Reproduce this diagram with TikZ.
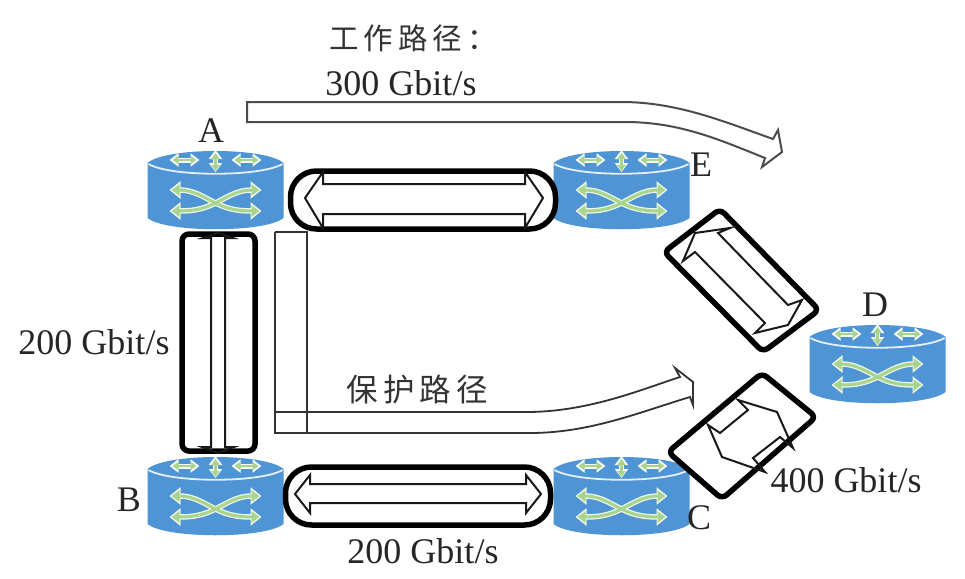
\documentclass[tikz,border=0pt]{standalone}
\usepackage{fontspec}
\setmainfont{Liberation Serif}
\newfontfamily\cjk[LetterSpace=17]{Noto Sans CJK SC}
\usetikzlibrary{arrows.meta}
\definecolor{rblue}{HTML}{4F94D4}
\definecolor{rgreen}{HTML}{A9D48E}
\tikzset{
  routerbox/.style={minimum width=135pt,minimum height=78pt,inner sep=0pt,outer sep=0pt},
  lbl/.style={font=\fontsize{36pt}{36pt}\selectfont,inner sep=0pt,text=black!85},
  cjklbl/.style={font=\cjk\fontsize{29.5pt}{30pt}\selectfont,inner sep=0pt,text=black!80},
  linkbox/.style={draw=black,line width=5.5pt,inner sep=0pt},
  linkline/.style={draw=black,line width=5.5pt,rounded corners=6pt},
  thin block/.style={draw=black!90,line width=2pt,line join=miter},
  gray block/.style={draw=black!70,line width=2pt},
  wa/.style={white!92!rgreen,line width=5pt,{Triangle[width=13pt,length=9pt]}-{Triangle[width=13pt,length=9pt]}},
  ga/.style={rgreen,line width=2.2pt,{Triangle[width=8pt,length=6pt]}-{Triangle[width=8pt,length=6pt]}},
  xw/.style={white!80!rgreen,line width=5.5pt,{Triangle[width=17pt,length=11pt]}-{Triangle[width=17pt,length=11pt]}},
  xg/.style={rgreen,line width=3pt,{Triangle[width=11pt,length=8pt]}-{Triangle[width=11pt,length=8pt]}},
}
\newcommand{\router}[3]{%
  \node[routerbox] (#1) at (#2,#3+27) {};
  \begin{scope}[shift={(#2,#3)}]
    \fill[rblue] (-68,0) -- (-68,55) .. controls (-50,70) and (50,70) .. (68,55) -- (68,0) .. controls (50,-16) and (-50,-16) .. (-68,0) -- cycle;
    \draw[white!85!rblue,line width=1.8pt] (-67,1) .. controls (-45,14) and (45,14) .. (67,1);
    \draw[wa] (-46,-3) -- (-16,-3);
    \draw[wa] (16,-3) -- (46,-3);
    \draw[wa] (0,-13) -- (0,9);
    \draw[ga] (-43,-3) -- (-19,-3);
    \draw[ga] (19,-3) -- (43,-3);
    \draw[ga] (0,-10) -- (0,8);
    \draw[xw] (-46,27) .. controls (-22,27) and (-12,34) .. (0,40) .. controls (12,46) and (22,48) .. (46,48);
    \draw[xw] (-46,48) .. controls (-22,48) and (-12,46) .. (0,40) .. controls (12,34) and (22,27) .. (46,27);
    \draw[xg] (-44,27) .. controls (-22,27) and (-12,34) .. (0,40) .. controls (12,46) and (22,48) .. (44,48);
    \draw[xg] (-44,48) .. controls (-22,48) and (-12,46) .. (0,40) .. controls (12,34) and (22,27) .. (44,27);
  \end{scope}}
\begin{document}
\begin{tikzpicture}[x=1pt,y=-1pt]
\useasboundingbox (0,0) rectangle (965,578);
\fill[white] (0,0) rectangle (965,578);
\router{A}{215.5}{163}
\router{E}{621.5}{163}
\router{B}{215.5}{469}
\router{C}{621.5}{469}
\router{D}{877.5}{337}
% links
\node[linkbox,rounded corners=26pt,minimum width=265pt,minimum height=58pt] (AE) at (423,200) {};
\node[linkbox,rounded corners=26pt,minimum width=265pt,minimum height=58pt] (BC) at (418,496) {};
\node[linkbox,rounded corners=7pt,minimum width=73pt,minimum height=217pt] (AB) at (218.5,342.5) {};
\draw[linkline] (720,209) -- (819,310) -- (763,352) -- (664,252) -- cycle;
\draw[linkline] (762,373) -- (816,417) -- (722,499) -- (668,452) -- cycle;
% double block arrows
\draw[thin block] (323,184) -- (525,184) -- (525,172) -- (543,198) -- (525,228) -- (525,214) -- (323,214) -- (323,228) -- (305,198) -- (323,172) -- cycle;
\draw[thin block] (310,484) -- (526,484) -- (526,475) -- (541,494) -- (526,513) -- (526,503) -- (310,503) -- (310,513) -- (295,494) -- (310,475) -- cycle;
\draw[thin block] (211,238) -- (211,447) -- (202,447) -- (218,453) -- (234,447) -- (225,447) -- (225,238) -- (233,238) -- (218,233) -- (203,238) -- cycle;
\draw[thin block] (718,233) -- (730,228) -- (695,233) -- (683,261) -- (695,252) -- (765,323) -- (755,333) -- (788,325) -- (802,300) -- (788,305) -- cycle;
\draw[thin block] (738,400) -- (777,412) -- (793,448) -- (780,437) -- (753,458) -- (765,472) -- (722,457) -- (708,425) -- (720,433) -- (748,410) -- cycle;
% working path
\draw[gray block,line join=miter] (247,102) -- (625,102) .. controls (680,103) and (725,122) .. (773,139) -- (778,130) -- (782,152) -- (762,167) -- (765,158) .. controls (720,140) and (680,122) .. (625,122) -- (247,122) -- cycle;
% protection path
\draw[black!80,line width=1.8pt,line join=miter] (275,232) -- (307,232) -- (307,433);
\draw[black!80,line width=1.8pt,line join=miter] (275,412) -- (530,412) .. controls (590,411) and (640,390) .. (680,377) -- (675,368) -- (693,382) -- (693,405) -- (690,397) .. controls (640,412) and (590,433) .. (530,433) -- (275,433) -- (275,232);
% labels
\node[cjklbl,anchor=west] (t1) at (329,38) {工作路径：};
\node[cjklbl,anchor=west,font=\cjk\fontsize{31.5pt}{32pt}\selectfont] (t2) at (346,390) {保护路径};
\node[lbl] (l300) at (401,83) {300 Gbit/s};
\node[lbl] (l200a) at (94,342) {200 Gbit/s};
\node[lbl] (l200b) at (423,551) {200 Gbit/s};
\node[lbl] (l400) at (846,480) {400 Gbit/s};
\node[lbl] (na) at (211,131) {A};
\node[lbl] (ne) at (701,165) {E};
\node[lbl] (nd) at (875,305) {D};
\node[lbl] (nb) at (129,500) {B};
\node[lbl] (nc) at (699,518) {C};
\end{tikzpicture}
\end{document}
